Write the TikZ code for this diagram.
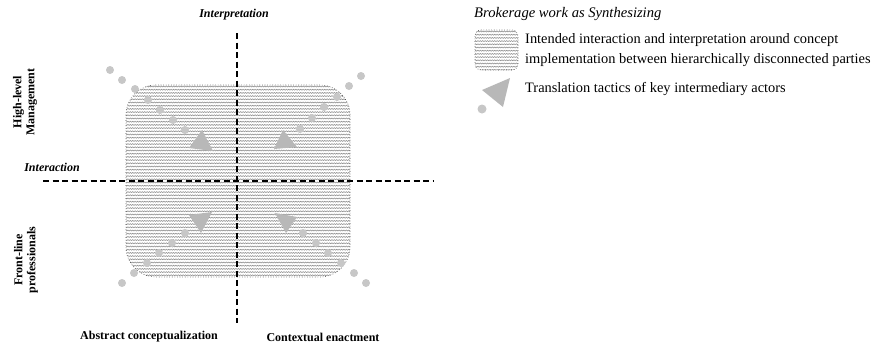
\documentclass[tikz,border=0pt]{standalone}
\usepackage{fontspec}
\setmainfont{Liberation Serif}
\usetikzlibrary{decorations.pathmorphing}
\begin{document}
\begin{tikzpicture}[x=1pt,y=-1pt,
  axis/.style={black,line width=1.3pt,dash pattern=on 6pt off 3.5pt},
  dotnode/.style={circle,fill=black!22,inner sep=0pt,minimum size=8pt},
  tri/.style={fill=black!28},
  lab/.style={font=\fontsize{12}{13}\selectfont\bfseries,align=center},
  ilab/.style={font=\fontsize{12}{13}\selectfont\bfseries\itshape},
  leg/.style={font=\fontsize{14.4}{20}\selectfont,anchor=west,align=left,inner sep=0pt},
  hatchline/.style={black!42,line width=0.6pt,decorate,decoration={snake,amplitude=0.5pt,segment length=2.4pt}},
  boxborder/.style={black!75,line width=0.6pt,dotted}
]
\useasboundingbox (0,0) rectangle (876,346);
% main box with hatch
\begin{scope}
  \clip[rounded corners=30pt] (126,85) rectangle (350,277);
  \fill[white] (126,85) rectangle (350,277);
  \foreach \yy in {86.5,89.7,...,277} {\draw[hatchline] (120,\yy) -- (356,\yy);}
\end{scope}
\draw[boxborder,rounded corners=30pt] (126,85) rectangle (350,277);
\node[inner sep=0pt] (box) at (238,181) {};
% axes
\coordinate (vt) at (237,33);
\coordinate (vb) at (237,323);
\coordinate (hl) at (43,181);
\coordinate (hr) at (433,181);
\draw[axis] (vt) -- (vb);
\draw[axis] (hl) -- (hr);
% labels
\node[ilab] (interp) at (234,15) {Interpretation};
\node[ilab] (inter) at (52,167) {Interaction};
\node[lab,rotate=90] (hlm) at (25,102) {High-level\\Management};
\node[lab,rotate=90] (flp) at (26,260) {Front-line\\professionals};
\node[lab] (abs) at (149,337) {Abstract conceptualization};
\node[lab] (ctx) at (323,337) {Contextual enactment};
% dots top-left
\foreach \i/\p in {1/{(110,70)},2/{(122,80)},3/{(135,89)},4/{(148,100)},5/{(160,110)},6/{(173,120)},7/{(185,130)}}
  \node[dotnode] (tl\i) at \p {};
\fill[tri] (202,130) -- (189,148) -- (213,151) -- cycle;
% dots top-right
\foreach \i/\p in {1/{(361,76)},2/{(349,86)},3/{(337,97)},4/{(324,107)},5/{(312,118)},6/{(300,129)}}
  \node[dotnode] (tr\i) at \p {};
\fill[tri] (283,130) -- (274,149) -- (297,147) -- cycle;
% dots bottom-left
\foreach \i/\p in {1/{(122,283)},2/{(134,273)},3/{(147,263)},4/{(159,253)},5/{(172,243)},6/{(185,233)}}
  \node[dotnode] (bl\i) at \p {};
\fill[tri] (189,215) -- (212,212) -- (201,233) -- cycle;
% dots bottom-right
\foreach \i/\p in {1/{(366,283)},2/{(354,273)},3/{(341,263)},4/{(328,253)},5/{(316,243)},6/{(303,233)}}
  \node[dotnode] (br\i) at \p {};
\fill[tri] (275,213) -- (297,217) -- (286,233) -- cycle;
% legend
\node[font=\fontsize{14.6}{16}\selectfont\itshape,anchor=west,inner sep=0pt] (ltitle) at (474,14) {Brokerage work as Synthesizing};
\begin{scope}
  \clip[rounded corners=6pt] (475,30) rectangle (518,70);
  \foreach \yy in {31.5,34.7,...,70} {\draw[hatchline] (470,\yy) -- (522,\yy);}
\end{scope}
\draw[boxborder,rounded corners=6pt] (475,30) rectangle (518,70);
\node[inner sep=0pt] (lbox) at (496.5,50) {};
\node[leg] (ltext1) at (525,50) {Intended interaction and interpretation around concept\\implementation between hierarchically disconnected parties};
\fill[tri] (510,78) -- (482,90) -- (503,107) -- cycle;
\node[dotnode,minimum size=9pt] (ldot) at (482,109) {};
\node[leg] (ltext2) at (525,89) {Translation tactics of key intermediary actors};
\end{tikzpicture}
\end{document}
